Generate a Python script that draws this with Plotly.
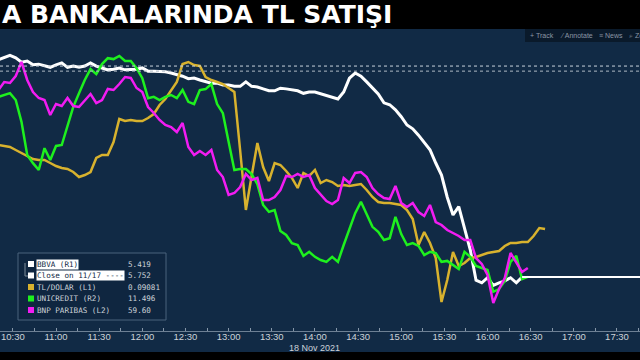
import plotly.graph_objects as go
import pandas as pd

# ---------------- data ----------------
times = pd.date_range("2021-11-18 10:20", periods=96, freq="4min")

bbva = [5.762, 5.766, 5.769, 5.765, 5.758, 5.760, 5.754, 5.755, 5.752, 5.750,
        5.754, 5.757, 5.750, 5.752, 5.750, 5.752, 5.757, 5.752, 5.749, 5.746,
        5.747, 5.749, 5.746, 5.746, 5.747, 5.749, 5.744, 5.744, 5.744, 5.743,
        5.741, 5.739, 5.736, 5.732, 5.733, 5.730, 5.727, 5.725, 5.725, 5.722,
        5.722, 5.720, 5.720, 5.727, 5.720, 5.719, 5.716, 5.713, 5.713, 5.717,
        5.716, 5.714, 5.713, 5.709, 5.711, 5.711, 5.708, 5.705, 5.702, 5.700,
        5.711, 5.733, 5.741, 5.736, 5.727, 5.717, 5.708, 5.694, 5.691, 5.683,
        5.672, 5.659, 5.653, 5.643, 5.632, 5.620, 5.599, 5.580, 5.545, 5.517,
        5.530, 5.496, 5.462, 5.414, 5.410, 5.418, 5.406, 5.410, 5.413, 5.418,
        5.410, 5.419]

tl_dolar = [0.09249, 0.09247, 0.09245, 0.09239, 0.09233, 0.09227, 0.09221, 0.09219, 0.09219, 0.09213,
            0.09207, 0.09203, 0.09201, 0.09195, 0.09185, 0.09189, 0.09195, 0.09223, 0.09229, 0.09229,
            0.09255, 0.09301, 0.09297, 0.09299, 0.09297, 0.09297, 0.09303, 0.09311, 0.09329, 0.09341,
            0.09359, 0.09375, 0.09411, 0.09415, 0.09409, 0.09407, 0.09385, 0.09379, 0.09375, 0.09371,
            0.09363, 0.09355, 0.09239, 0.09119, 0.09187, 0.09253, 0.09205, 0.09177, 0.09213, 0.09209,
            0.09197, 0.09183, 0.09163, 0.09193, 0.09187, 0.09199, 0.09173, 0.09179, 0.09175, 0.09167,
            0.09169, 0.09167, 0.09169, 0.09171, 0.09159, 0.09145, 0.09135, 0.09133, 0.09133, 0.09131,
            0.09129, 0.09119, 0.09101, 0.09049, 0.09075, 0.09053, 0.09023, 0.08935, 0.08979, 0.09035,
            0.09007, 0.09013, 0.09023, 0.09025, 0.09029, 0.09033, 0.09035, 0.09037, 0.09047, 0.09053,
            0.09053, 0.09055, 0.09055, 0.09067, 0.09083, 0.09081]

unicredit = [11.892, 11.896, 11.900, 11.885, 11.837, 11.764, 11.746, 11.731, 11.779, 11.753,
             11.784, 11.786, 11.830, 11.870, 11.900, 11.929, 11.953, 11.942, 11.964, 11.977,
             11.975, 11.982, 11.971, 11.971, 11.955, 11.933, 11.889, 11.892, 11.885, 11.892,
             11.896, 11.889, 11.907, 11.881, 11.876, 11.907, 11.909, 11.920, 11.876, 11.856,
             11.793, 11.731, 11.733, 11.733, 11.722, 11.700, 11.654, 11.639, 11.643, 11.597,
             11.588, 11.570, 11.566, 11.542, 11.551, 11.540, 11.533, 11.529, 11.540, 11.529,
             11.566, 11.599, 11.636, 11.661, 11.632, 11.606, 11.595, 11.577, 11.581, 11.628,
             11.590, 11.566, 11.570, 11.564, 11.544, 11.551, 11.548, 11.529, 11.531, 11.522,
             11.513, 11.551, 11.540, 11.520, 11.515, 11.511, 11.463, 11.469, 11.487, 11.529,
             11.542, 11.491, 11.496]

bnp = [61.38, 61.46, 61.45, 61.52, 61.66, 61.48, 61.36, 61.30, 61.28, 61.13,
       61.24, 61.22, 61.30, 61.22, 61.21, 61.28, 61.34, 61.25, 61.28, 61.39,
       61.38, 61.44, 61.51, 61.50, 61.40, 61.36, 61.21, 61.15, 61.08, 61.03,
       61.01, 60.96, 61.05, 60.81, 60.73, 60.77, 60.73, 60.78, 60.58, 60.51,
       60.33, 60.35, 60.41, 60.54, 60.48, 60.50, 60.28, 60.28, 60.31, 60.38,
       60.52, 60.51, 60.54, 60.51, 60.53, 60.40, 60.33, 60.27, 60.24, 60.28,
       60.50, 60.45, 60.55, 60.56, 60.51, 60.40, 60.34, 60.30, 60.29, 60.42,
       60.25, 60.21, 60.25, 60.16, 60.12, 60.23, 60.06, 60.03, 59.98, 59.95,
       59.92, 59.88, 59.88, 59.70, 59.64, 59.53, 59.25, 59.39, 59.50, 59.75,
       59.66, 59.56, 59.60]

close_prev = 5.752        # Close on 11/17 (BBVA)
ref_level_2 = 5.744       # second dotted reference line

legend_names = ["BBVA (R1)", "Close on 11/17 ----", "TL/DOLAR (L1)", "UNICREDIT (R2)", "BNP PARIBAS (L2)"]
legend_values = ["5.419", "5.752", "0.09081", "11.496", "59.60"]
title_text = "A BANKALARINDA TL SATIŞI"
date_label = "18 Nov 2021"
toolbar_items = ["+ Track", "⁄ Annotate", "≡ News", "⌕ Zo"]

# ---------------- style ----------------
NAVY = "#112a45"
WHITE = "#ffffff"
YELLOW = "#d8b22e"
GREEN = "#1ef01e"
MAGENTA = "#f21cf2"
TXT = "#ccd2d8"

W, H = 640, 360
def PX(x): return x / W
def PY(y): return 1 - y / H

x_range = ["2021-11-18 10:21:04", "2021-11-18 17:46:00"]
y_dom = [PY(331), PY(30)]

fig = go.Figure()
fig.add_trace(go.Scatter(x=times[:len(bbva)], y=bbva, mode="lines", yaxis="y",
                         line=dict(color=WHITE, width=3), name="BBVA"))
fig.add_trace(go.Scatter(x=times[:len(tl_dolar)], y=tl_dolar, mode="lines", yaxis="y2",
                         line=dict(color=YELLOW, width=2.5), name="TL/DOLAR"))
fig.add_trace(go.Scatter(x=times[:len(unicredit)], y=unicredit, mode="lines", yaxis="y3",
                         line=dict(color=GREEN, width=2.5), name="UNICREDIT"))
fig.add_trace(go.Scatter(x=times[:len(bnp)], y=bnp, mode="lines", yaxis="y4",
                         line=dict(color=MAGENTA, width=2.5), name="BNP PARIBAS"))

shapes = [
    dict(type="rect", xref="paper", yref="paper", x0=0, x1=1, y0=PY(352), y1=PY(29),
         fillcolor=NAVY, line=dict(width=0), layer="below"),
    # dotted reference lines (BBVA axis)
    dict(type="line", xref="paper", yref="y", x0=0, x1=1, y0=close_prev, y1=close_prev,
         line=dict(color="#c9d2dc", width=1, dash="dot")),
    dict(type="line", xref="paper", yref="y", x0=0, x1=1, y0=ref_level_2, y1=ref_level_2,
         line=dict(color="#aeb9c5", width=1, dash="dot")),
    # last value extension of BBVA
    dict(type="line", xref="x", yref="y", x0=times[len(bbva) - 1], x1=x_range[1],
         y0=bbva[-1], y1=bbva[-1], line=dict(color=WHITE, width=2)),
    # toolbar
    dict(type="rect", xref="paper", yref="paper", x0=PX(525), x1=1, y0=PY(42), y1=PY(29),
         fillcolor="#0a1a2b", line=dict(width=0)),
    # legend box
    dict(type="rect", xref="paper", yref="paper", x0=PX(18), x1=PX(166), y0=PY(320), y1=PY(253),
         fillcolor="#0f2640", line=dict(color="#4a627c", width=1)),
    # bracket joining first two legend rows
    dict(type="path", xref="paper", yref="paper",
         path=f"M {PX(25)},{PY(263)} L {PX(25)},{PY(276)} L {PX(28)},{PY(276)}",
         line=dict(color="#7d8b99", width=1)),
]

leg_colors = [WHITE, WHITE, YELLOW, GREEN, MAGENTA]
row_y = [264, 275.5, 287, 298.5, 310]
annotations = []
for i, (nm, val, col, ry) in enumerate(zip(legend_names, legend_values, leg_colors, row_y)):
    shapes.append(dict(type="rect", xref="paper", yref="paper",
                       x0=PX(28), x1=PX(34), y0=PY(ry + 3), y1=PY(ry - 3),
                       fillcolor=col, line=dict(width=0)))
    hl = i < 2
    annotations.append(dict(x=PX(36), y=PY(ry), xref="paper", yref="paper", xanchor="left",
                            yanchor="middle", text=nm, showarrow=False,
                            font=dict(family="DejaVu Sans Mono", size=7.6,
                                      color=NAVY if hl else TXT),
                            bgcolor=WHITE if hl else None, borderpad=0))
    annotations.append(dict(x=PX(126), y=PY(ry), xref="paper", yref="paper", xanchor="left",
                            yanchor="middle", text=val, showarrow=False,
                            font=dict(family="DejaVu Sans Mono", size=7.6, color=TXT)))

annotations.append(dict(x=0, y=PY(14.5), xref="paper", yref="paper", xanchor="left",
                        yanchor="middle", text=title_text, showarrow=False,
                        font=dict(family="DejaVu Sans", size=25, color=WHITE, weight="bold")))
annotations.append(dict(x="2021-11-18 14:00", y=PY(348), xref="x", yref="paper",
                        xanchor="center", yanchor="middle", text=date_label, showarrow=False,
                        font=dict(family="Liberation Sans", size=9, color=TXT)))
for txt, xx in zip(toolbar_items, [528, 558, 597, 627]):
    annotations.append(dict(x=PX(xx), y=PY(35.5), xref="paper", yref="paper", xanchor="left",
                            yanchor="middle", text=txt, showarrow=False,
                            font=dict(family="Liberation Sans", size=7, color="#8a96a4")))

hidden = dict(visible=False, showgrid=False, zeroline=False, fixedrange=True)
fig.update_layout(
    width=W, height=H, margin=dict(l=0, r=0, t=0, b=0),
    paper_bgcolor="#000000", plot_bgcolor=NAVY, showlegend=False,
    xaxis=dict(type="date", domain=[0, 1], range=x_range, anchor="y",
               tick0="2021-11-18 10:30", dtick=1800000, tickformat="%H:%M",
               showgrid=False, zeroline=False, showline=True, linecolor="#6d8094", linewidth=1,
               ticks="inside", ticklen=3, tickcolor="#8596a8", ticklabelstandoff=-3,
               minor=dict(dtick=900000, ticks="inside", ticklen=3, tickcolor="#8596a8"),
               tickfont=dict(family="Liberation Sans", size=9.5, color=TXT)),
    yaxis=dict(domain=y_dom, range=[5.3339, 5.8089], **hidden),
    yaxis2=dict(overlaying="y", range=[0.08877, 0.09479], **hidden),
    yaxis3=dict(overlaying="y", range=[11.3768, 12.039], **hidden),
    yaxis4=dict(overlaying="y", range=[58.97, 61.98], **hidden),
    shapes=shapes, annotations=annotations,
)

fig.write_html("out.html")
